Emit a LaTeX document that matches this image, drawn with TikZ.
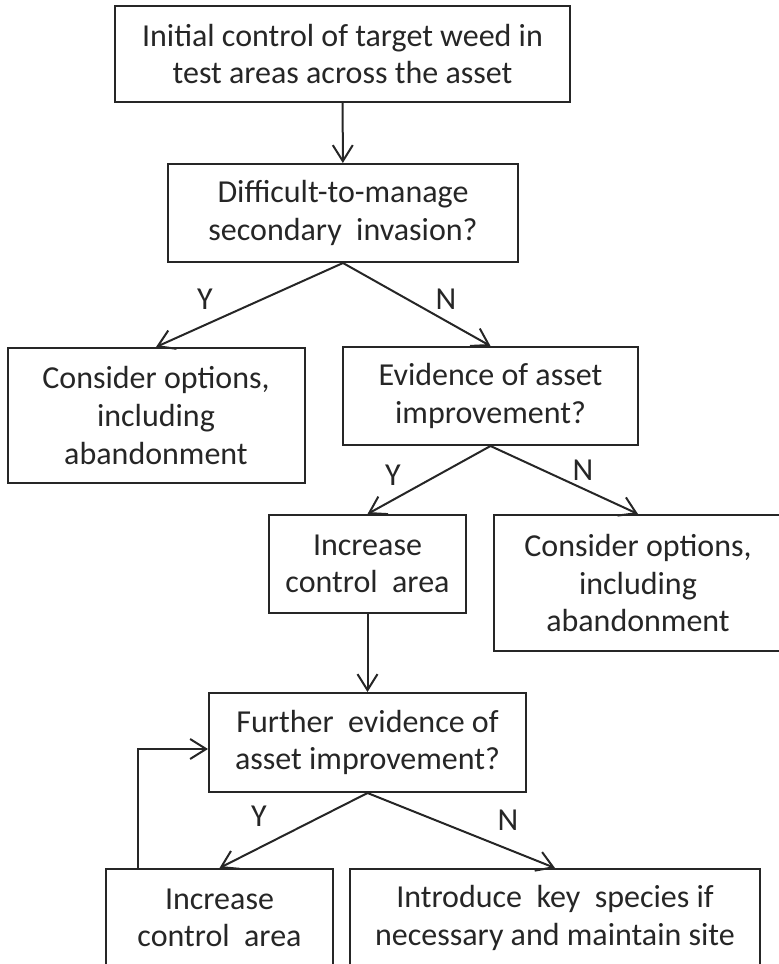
\documentclass[tikz,border=0pt]{standalone}
\usepackage{fontspec}
\setmainfont{Carlito}
\usetikzlibrary{arrows.meta}

\begin{document}
\begin{tikzpicture}[x=0.5pt,y=-0.5pt,
	font=\fontsize{16pt}{18.8pt}\selectfont,
	box/.style={draw=black!85,line width=1pt,align=center,inner sep=0pt,text=black!85},
	arr/.style={draw=black!85,line width=1pt,-{Straight Barb[length=8pt,width=10pt,line width=1pt]}},
	yn/.style={text=black!85,inner sep=0pt}]
				\useasboundingbox (0,0) rectangle (779,964);
				\clip (0,0) rectangle (779,964);
				\node [box,minimum width=227.5pt,minimum height=48pt] (init) at (342.5,54) {Initial control of target weed in\\test areas across the asset};
				\node [box,minimum width=175pt,minimum height=49pt] (secondary) at (343,213) {Difficult-to-manage\\secondary\ \ invasion?};
				\node [box,minimum width=148.5pt,minimum height=67.5pt] (optionsA) at (156,415.5) {Consider options,\\including\\abandonment};
				\node [box,minimum width=147.5pt,minimum height=49pt] (evidence) at (490.5,396) {Evidence of asset\\improvement?};
				\node [box,minimum width=98.5pt,minimum height=49pt] (increaseA) at (367.5,564) {Increase\\control\ \ area};
				\node [box,minimum width=144pt,minimum height=68pt] (optionsB) at (638,583) {Consider options,\\including\\abandonment};
				\node [box,minimum width=158.5pt,minimum height=49.5pt] (further) at (367.5,742.5) {Further\ \ evidence of\\asset improvement?};
				\node [box,minimum width=113.5pt,minimum height=49pt] (increaseB) at (219.5,918) {Increase\\control\ \ area};
				\node [box,minimum width=205pt,minimum height=49pt] (introduce) at (555,918) {Introduce\ \ key\ \ species if\\necessary and maintain site};
				\draw [arr] (init) -- (secondary);
				\draw [arr] (secondary.south) -- (optionsA.north);
				\draw [arr] (secondary.south) -- (evidence.north);
				\draw [arr] (evidence.south) -- (increaseA.north);
				\draw [arr] (evidence.south) -- (optionsB.north);
				\draw [arr] (increaseA) -- (further);
				\draw [arr] (further.south) -- (increaseB.north);
				\draw [arr] (further.south) -- (introduce.north);
				\coordinate (loop) at (138,749);
				\draw [arr] (loop |- increaseB.north) |- (further.west |- loop);
				\node [yn] (y1) at (205,299) {Y};
				\node [yn] (n1) at (446,299) {N};
				\node [yn] (y2) at (393,475) {Y};
				\node [yn] (n2) at (583,470) {N};
				\node [yn] (y3) at (259,816) {Y};
				\node [yn] (n3) at (508,820) {N};
			\end{tikzpicture}
\end{document}
